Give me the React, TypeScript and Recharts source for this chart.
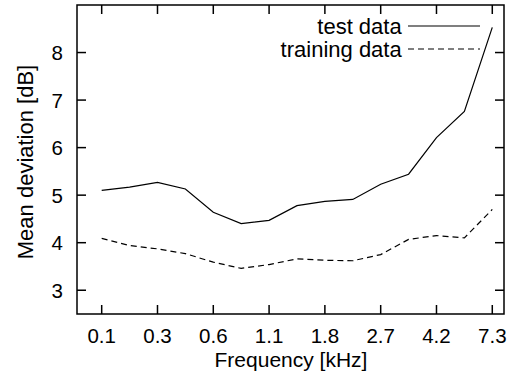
import React from 'react';
import { LineChart, Line, XAxis, YAxis, ReferenceArea, Legend, Customized } from 'recharts';

const bandIndex = [0, 1, 2, 3, 4, 5, 6, 7, 8, 9, 10, 11, 12, 13, 14];
const testData = [5.10, 5.17, 5.27, 5.13, 4.64, 4.40, 4.47, 4.78, 4.87, 4.91, 5.23, 5.44, 6.21, 6.76, 8.53];
const trainingData = [4.09, 3.94, 3.87, 3.77, 3.59, 3.46, 3.54, 3.66, 3.63, 3.62, 3.75, 4.07, 4.15, 4.10, 4.70];
const xTickPositions = [0, 2, 4, 6, 8, 10, 12, 14];
const xTickLabels = ['0.1', '0.3', '0.6', '1.1', '1.8', '2.7', '4.2', '7.3'];
const yTicks = [3, 4, 5, 6, 7, 8];

const data = bandIndex.map((i, k) => ({ i, test: testData[k], train: trainingData[k] }));

const W = 521;
const H = 376;
const PLOT_LEFT = 77;
const PLOT_TOP = 5;
const PLOT_RIGHT = 504;
const PLOT_BOTTOM = 314;
const X_DOMAIN: [number, number] = [-0.885, 14.42];
const Y_DOMAIN: [number, number] = [2.5, 9];
const FONT = '"Liberation Sans", Arial, Helvetica, sans-serif';
const FS_TICK = 20.5;
const FS_XTITLE = 21;
const FS_YTITLE = 22;
const FS_LEGEND = 22;
const TICK = 9;

const XTick = (props: any) => {
  const { x, y, payload } = props;
  const idx = xTickPositions.indexOf(payload.value);
  return (
    <g>
      <line x1={x} y1={y} x2={x} y2={y - TICK} stroke="#000" strokeWidth={1.5} />
      <line x1={x} y1={PLOT_TOP} x2={x} y2={PLOT_TOP + TICK} stroke="#000" strokeWidth={1.5} />
      <text x={x} y={y + 29} textAnchor="middle" fontFamily={FONT} fontSize={FS_TICK} fill="#000">
        {xTickLabels[idx]}
      </text>
    </g>
  );
};

const YTick = (props: any) => {
  const { x, y, payload } = props;
  return (
    <g>
      <line x1={x} y1={y} x2={x + TICK} y2={y} stroke="#000" strokeWidth={1.5} />
      <line x1={PLOT_RIGHT - TICK} y1={y} x2={PLOT_RIGHT} y2={y} stroke="#000" strokeWidth={1.5} />
      <text x={x - 14} y={y + 7.5} textAnchor="end" fontFamily={FONT} fontSize={FS_TICK} fill="#000">
        {payload.value}
      </text>
    </g>
  );
};

const LegendContent = (props: any) => {
  const { payload } = props;
  const rows = [26, 49];
  return (
    <svg width={220} height={70} style={{ overflow: 'visible' }}>
      {(payload || []).map((p: any, k: number) => (
        <g key={k}>
          <text x={401.7 - 300} y={rows[k] + 7.8} textAnchor="end" fontFamily={FONT} fontSize={FS_LEGEND} fill="#000">
            {p.value}
          </text>
          <line
            x1={408 - 300}
            x2={480 - 300}
            y1={rows[k]}
            y2={rows[k]}
            stroke="#000"
            strokeWidth={1.2}
            strokeDasharray={p.payload && p.payload.strokeDasharray ? p.payload.strokeDasharray : undefined}
          />
        </g>
      ))}
    </svg>
  );
};

const Y_LABEL_X = 33;
const Y_LABEL_Y = 162;

const Titles = () => (
  <g>
    <text x={291} y={367} textAnchor="middle" fontFamily={FONT} fontSize={FS_XTITLE} fill="#000">
      Frequency [kHz]
    </text>
    <text
      x={Y_LABEL_X}
      y={Y_LABEL_Y}
      transform={`rotate(-90 ${Y_LABEL_X} ${Y_LABEL_Y})`}
      textAnchor="middle"
      fontFamily={FONT}
      fontSize={FS_YTITLE}
      fill="#000"
    >
      Mean deviation [dB]
    </text>
  </g>
);

export default function App() {
  return (
    <div style={{ position: 'absolute', left: 0, top: 0, width: W, height: H, background: '#fff' }}>
      <LineChart
        width={W}
        height={H}
        data={data}
        margin={{ top: PLOT_TOP, right: W - PLOT_RIGHT, bottom: 0, left: 0 }}
      >
        <XAxis
          type="number"
          dataKey="i"
          domain={X_DOMAIN}
          allowDataOverflow
          ticks={xTickPositions}
          interval={0}
          tick={<XTick />}
          tickLine={false}
          axisLine={false}
          tickSize={0}
          tickMargin={0}
          height={H - PLOT_BOTTOM}
        />
        <YAxis
          type="number"
          domain={Y_DOMAIN}
          allowDataOverflow
          ticks={yTicks}
          interval={0}
          tick={<YTick />}
          tickLine={false}
          axisLine={false}
          tickSize={0}
          tickMargin={0}
          width={PLOT_LEFT}
        />
        <ReferenceArea
          x1={X_DOMAIN[0]}
          x2={X_DOMAIN[1]}
          y1={Y_DOMAIN[0]}
          y2={Y_DOMAIN[1]}
          fill="none"
          stroke="#000"
          strokeWidth={1.5}
          ifOverflow="visible"
        />
        <Line
          type="linear"
          dataKey="test"
          name="test data"
          stroke="#000"
          strokeWidth={1.2}
          dot={false}
          activeDot={false}
          isAnimationActive={false}
        />
        <Line
          type="linear"
          dataKey="train"
          name="training data"
          stroke="#000"
          strokeWidth={1.2}
          strokeDasharray="6 4"
          dot={false}
          activeDot={false}
          isAnimationActive={false}
        />
        <Legend
          layout="horizontal"
          verticalAlign="middle"
          align="center"
          content={<LegendContent />}
          wrapperStyle={{ left: 300, top: 0, width: 220, height: 70 }}
        />
        <Customized component={Titles} />
      </LineChart>
    </div>
  );
}
